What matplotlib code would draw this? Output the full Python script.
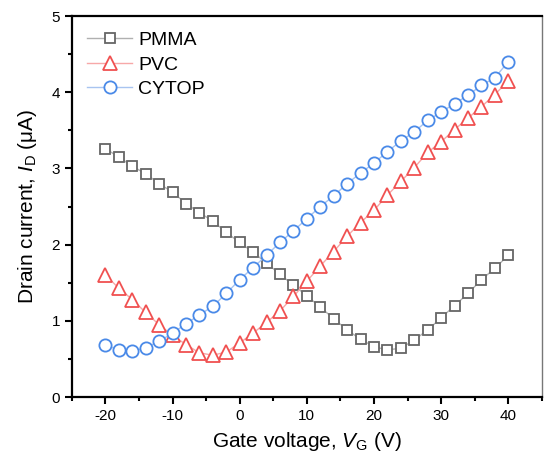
import matplotlib
matplotlib.use("Agg")
import matplotlib.pyplot as plt
from matplotlib.ticker import MultipleLocator

plt.rcParams['font.family'] = ['Liberation Sans', 'DejaVu Sans']
plt.rcParams['mathtext.fontset'] = 'custom'
plt.rcParams['mathtext.rm'] = 'Liberation Sans'
plt.rcParams['mathtext.it'] = 'Liberation Sans:italic'
plt.rcParams['axes.unicode_minus'] = False

vg = list(range(-20, 41, 2))
pmma = [3.26, 3.15, 3.03, 2.93, 2.80, 2.69, 2.54, 2.42, 2.31, 2.16, 2.03,
        1.90, 1.76, 1.61, 1.47, 1.33, 1.18, 1.03, 0.88, 0.76, 0.66, 0.62,
        0.64, 0.75, 0.88, 1.04, 1.20, 1.36, 1.54, 1.69, 1.86]
pvc = [1.60, 1.43, 1.28, 1.11, 0.95, 0.81, 0.69, 0.58, 0.55, 0.59, 0.71,
       0.84, 0.98, 1.13, 1.32, 1.52, 1.72, 1.91, 2.11, 2.29, 2.45, 2.65,
       2.83, 3.01, 3.21, 3.35, 3.51, 3.66, 3.81, 3.97, 4.15]
cytop = [0.68, 0.62, 0.60, 0.65, 0.73, 0.84, 0.96, 1.08, 1.19, 1.36, 1.54,
         1.70, 1.86, 2.03, 2.18, 2.34, 2.50, 2.64, 2.80, 2.94, 3.07, 3.22,
         3.36, 3.48, 3.63, 3.74, 3.85, 3.96, 4.09, 4.19, 4.40]

fig = plt.figure(figsize=(5.44, 4.58), dpi=100)
ax = fig.add_axes([0.132, 0.133, 0.864, 0.832])

ax.plot(vg, pmma, color='#b0b0b0', lw=1.0, marker='s', ms=7.2,
        mfc='white', mec='#666666', mew=1.3, label='PMMA')
ax.plot(vg, pvc, color='#f7a8a8', lw=1.0, marker='^', ms=9.5,
        mfc='white', mec='#f05050', mew=1.3, label='PVC')
ax.plot(vg, cytop, color='#a8c4f0', lw=1.0, marker='o', ms=8.8,
        mfc='white', mec='#4a8ae8', mew=1.3, label='CYTOP')

ax.set_xlim(-25, 45)
ax.set_ylim(0, 5)
ax.xaxis.set_major_locator(MultipleLocator(10))
ax.xaxis.set_minor_locator(MultipleLocator(5))
ax.yaxis.set_major_locator(MultipleLocator(1))
ax.yaxis.set_minor_locator(MultipleLocator(0.5))
ax.tick_params(which='both', direction='out', top=False, right=False,
               labelsize=11, width=1.5)
ax.tick_params(which='major', length=5)
ax.tick_params(which='minor', length=3)
for s in ['left', 'bottom', 'top']:
    ax.spines[s].set_linewidth(1.6)
ax.spines['right'].set_linewidth(1.0)
ax.spines['right'].set_color('#777777')

ax.set_xlabel(r'Gate voltage, $\mathit{V}_\mathrm{G}$ (V)', fontsize=15, labelpad=5)
ax.set_ylabel(r'Drain current, $\mathit{I}_\mathrm{D}$ ($\mathrm{\mu}$A)', fontsize=15, labelpad=9)

ax.legend(loc='upper left', frameon=False, fontsize=14, handlelength=2.3,
          handletextpad=0.3, labelspacing=0.35, borderaxespad=0.35,
          borderpad=0.45)

fig.savefig('out.png', dpi=100)
